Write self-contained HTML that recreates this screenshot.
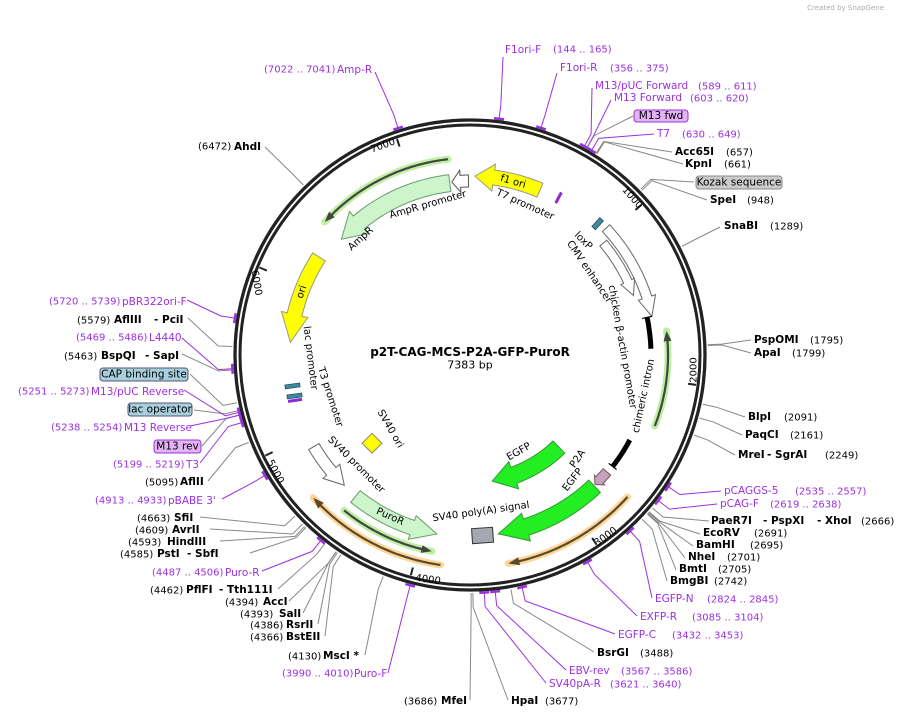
<!DOCTYPE html>
<html><head><meta charset="utf-8"><style>
html,body{margin:0;padding:0;background:#fff}
svg{display:block}
text{font-family:"DejaVu Sans","Liberation Sans",sans-serif;font-size:10px;dominant-baseline:central}
.b{font-weight:bold;font-size:10.5px;fill:#000}
.n{fill:#000}
.p{fill:#9b30e0}
.f{font-size:10px;fill:#000}
</style></head><body>
<svg id="s" width="907" height="718" viewBox="0 0 907 718" xmlns="http://www.w3.org/2000/svg">
<rect width="907" height="718" fill="#fff"/>
<g id="lines"></g>
<circle cx="470" cy="355" r="235" fill="none" stroke="#222" stroke-width="3.3"/>
<circle cx="470" cy="355" r="230" fill="none" stroke="#222" stroke-width="3"/>
<g id="feat"></g>
<text x="884" y="8" style="font-size:7px;fill:#aaa" text-anchor="end">Created by SnapGene</text>
<text x="470" y="352" text-anchor="middle" style="font-weight:bold;font-size:12px">p2T-CAG-MCS-P2A-GFP-PuroR</text>
<text x="470" y="365" text-anchor="middle" style="font-size:11px">7383 bp</text>
<text x="383" y="146" text-anchor="middle" transform="rotate(-20 383 146)">7000</text>
<text x="632" y="198" text-anchor="middle" transform="rotate(49 632 198)">1000</text>
<text x="694" y="370" text-anchor="middle" transform="rotate(-90 694 370)">2000</text>
<text x="606" y="537" text-anchor="middle" transform="rotate(-35 606 537)">3000</text>
<text x="428" y="580" text-anchor="middle" transform="rotate(8 428 580)">4000</text>
<text x="275" y="472" text-anchor="middle" transform="rotate(62 275 472)">5000</text>
<text x="256" y="283" text-anchor="middle" transform="rotate(80 256 283)">6000</text>
<text x="428" y="205" text-anchor="middle" transform="rotate(-16 428 205)" class="f">AmpR promoter</text>
<text x="361" y="239" text-anchor="middle" transform="rotate(-42 361 239)" class="f">AmpR</text>
<text x="513" y="182" text-anchor="middle" transform="rotate(16 513 182)" class="f">f1 ori</text>
<text x="525" y="205" text-anchor="middle" transform="rotate(24 525 205)" class="f">T7 promoter</text>
<text x="302" y="292" text-anchor="middle" transform="rotate(-72 302 292)" class="f">ori</text>
<text x="310" y="358" text-anchor="middle" transform="rotate(83 310 358)" class="f">lac promoter</text>
<text x="330" y="397" text-anchor="middle" transform="rotate(72 330 397)" class="f">T3 promoter</text>
<text x="390" y="429" text-anchor="middle" transform="rotate(60 390 429)" class="f">SV40 ori</text>
<text x="356" y="465" text-anchor="middle" transform="rotate(45 356 465)" class="f">SV40 promoter</text>
<text x="390" y="517" text-anchor="middle" transform="rotate(24 390 517)" class="f">PuroR</text>
<text x="481" y="512" text-anchor="middle" transform="rotate(-8 481 512)" class="f">SV40 poly(A) signal</text>
<text x="519" y="452" text-anchor="middle" transform="rotate(-30 519 452)" class="f">EGFP</text>
<text x="578" y="459" text-anchor="middle" transform="rotate(-55 578 459)" class="f">P2A</text>
<text x="573" y="480" text-anchor="middle" transform="rotate(-52 573 480)" class="f">EGFP</text>
<text x="583" y="241" text-anchor="middle" transform="rotate(45 583 241)" class="f">loxP</text>
<text x="589" y="272" text-anchor="middle" transform="rotate(56 589 272)" class="f">CMV enhancer</text>
<text x="622" y="347" text-anchor="middle" transform="rotate(80 622 347)" class="f">chicken β-actin promoter</text>
<text x="644" y="396" text-anchor="middle" transform="rotate(-78 644 396)" class="f">chimeric intron</text>
<rect x="365" y="432" width="14" height="14" fill="#ff0" stroke="#886" stroke-width="1" transform="rotate(45 372 439) translate(3 3)"/>
<rect x="472" y="528" width="21" height="15" fill="#a4a8b0" stroke="#333" stroke-width="1" transform="rotate(-4 482 535)"/>
<rect x="285" y="384" width="15" height="4" fill="#3a8aa0" stroke="#234" stroke-width=".6" transform="rotate(-8 292 386)"/>
<rect x="287" y="394" width="15" height="4" fill="#3a8aa0" stroke="#234" stroke-width=".6" transform="rotate(-8 294 396)"/>
<rect x="288" y="399" width="14" height="3" fill="#8a2ad8" transform="rotate(-8 294 400)"/>
<rect x="592" y="221" width="12" height="5" fill="#3a8aa0" stroke="#234" stroke-width=".6" transform="rotate(-48 598 224)"/>
<rect x="553" y="196" width="12" height="3" fill="#8a2ad8" transform="rotate(-62 559 198)"/>
<text x="505" y="50" class="p" style="font-size:10.5px">F1ori-F</text><text x="553" y="50" class="p">(144 .. 165)</text>
<text x="560" y="68" class="p" style="font-size:10.5px">F1ori-R</text><text x="610" y="69" class="p">(356 .. 375)</text>
<text x="595" y="86" class="p" style="font-size:10.5px">M13/pUC Forward</text><text x="698" y="87" class="p">(589 .. 611)</text>
<text x="614" y="98" class="p" style="font-size:10.5px">M13 Forward</text><text x="690" y="99" class="p">(603 .. 620)</text>
<rect x="634" y="110" width="54" height="12" rx="3" fill="#e2b4f2" stroke="#9b30e0"/><text x="661" y="116" text-anchor="middle" class="n" style="font-size:10.5px">M13 fwd</text>
<text x="657" y="134" class="p" style="font-size:10.5px">T7</text><text x="682" y="135" class="p">(630 .. 649)</text>
<text x="675" y="152" class="b">Acc65I</text><text x="726" y="153" class="n">(657)</text>
<text x="685" y="164" class="b">KpnI</text><text x="724" y="165" class="n">(661)</text>
<rect x="696" y="176" width="86" height="13" rx="3" fill="#ccc" stroke="#888"/><text x="739" y="182.5" text-anchor="middle" class="n" style="font-size:10.5px">Kozak sequence</text>
<text x="710" y="200" class="b">SpeI</text><text x="747" y="201" class="n">(948)</text>
<text x="724" y="226" class="b">SnaBI</text><text x="770" y="227" class="n">(1289)</text>
<text x="754" y="340" class="b">PspOMI</text><text x="810" y="341" class="n">(1795)</text>
<text x="754" y="353" class="b">ApaI</text><text x="792" y="354" class="n">(1799)</text>
<text x="748" y="417" class="b">BlpI</text><text x="784" y="418" class="n">(2091)</text>
<text x="745" y="435" class="b">PaqCI</text><text x="790" y="436" class="n">(2161)</text>
<text x="738" y="455" class="b">MreI</text><text x="767" y="455" class="b">- SgrAI</text><text x="825" y="456" class="n">(2249)</text>
<text x="724" y="491" class="p" style="font-size:10.5px">pCAGGS-5</text><text x="795" y="492" class="p">(2535 .. 2557)</text>
<text x="720" y="504" class="p" style="font-size:10.5px">pCAG-F</text><text x="770" y="505" class="p">(2619 .. 2638)</text>
<text x="711" y="521" class="b">PaeR7I</text><text x="763" y="521" class="b">- PspXI</text><text x="817" y="521" class="b">- XhoI</text><text x="861" y="522" class="n">(2666)</text>
<text x="703" y="533" class="b">EcoRV</text><text x="754" y="534" class="n">(2691)</text>
<text x="696" y="545" class="b">BamHI</text><text x="750" y="546" class="n">(2695)</text>
<text x="688" y="557" class="b">NheI</text><text x="727" y="558" class="n">(2701)</text>
<text x="679" y="569" class="b">BmtI</text><text x="718" y="570" class="n">(2705)</text>
<text x="670" y="581" class="b">BmgBI</text><text x="714" y="582" class="n">(2742)</text>
<text x="655" y="599" class="p" style="font-size:10.5px">EGFP-N</text><text x="707" y="600" class="p">(2824 .. 2845)</text>
<text x="640" y="617" class="p" style="font-size:10.5px">EXFP-R</text><text x="692" y="618" class="p">(3085 .. 3104)</text>
<text x="618" y="635" class="p" style="font-size:10.5px">EGFP-C</text><text x="672" y="636" class="p">(3432 .. 3453)</text>
<text x="597" y="653" class="b">BsrGI</text><text x="640" y="654" class="n">(3488)</text>
<text x="569" y="671" class="p" style="font-size:10.5px">EBV-rev</text><text x="621" y="672" class="p">(3567 .. 3586)</text>
<text x="549" y="684" class="p" style="font-size:10.5px">SV40pA-R</text><text x="610" y="685" class="p">(3621 .. 3640)</text>
<text x="511" y="701" class="b">HpaI</text><text x="545" y="702" class="n">(3677)</text>
<text x="404" y="702" class="n">(3686)</text><text x="441" y="701" class="b">MfeI</text>
<text x="282" y="674" class="p">(3990 .. 4010)</text><text x="354" y="674" class="p" style="font-size:10.5px">Puro-F</text>
<text x="288" y="657" class="n">(4130)</text><text x="323" y="656" class="b">MscI *</text>
<text x="250" y="638" class="n">(4366)</text><text x="286" y="637" class="b">BstEII</text>
<text x="250" y="626" class="n">(4386)</text><text x="286" y="625" class="b">RsrII</text>
<text x="240" y="615" class="n">(4393)</text><text x="279" y="614" class="b">SalI</text>
<text x="225" y="603" class="n">(4394)</text><text x="263" y="602" class="b">AccI</text>
<text x="150" y="591" class="n">(4462)</text><text x="186" y="590" class="b">PflFI</text><text x="219" y="590" class="b">- Tth111I</text>
<text x="152" y="573" class="p">(4487 .. 4506)</text><text x="225" y="573" class="p" style="font-size:10.5px">Puro-R</text>
<text x="120" y="555" class="n">(4585)</text><text x="157" y="554" class="b">PstI</text><text x="187" y="554" class="b">- SbfI</text>
<text x="128" y="543" class="n">(4593)</text><text x="167" y="542" class="b">HindIII</text>
<text x="135" y="531" class="n">(4609)</text><text x="172" y="530" class="b">AvrII</text>
<text x="137" y="519" class="n">(4663)</text><text x="174" y="518" class="b">SfiI</text>
<text x="95" y="501" class="p">(4913 .. 4933)</text><text x="168" y="501" class="p" style="font-size:10.5px">pBABE 3'</text>
<text x="145" y="483" class="n">(5095)</text><text x="180" y="482" class="b">AflII</text>
<text x="113" y="465" class="p">(5199 .. 5219)</text><text x="186" y="465" class="p" style="font-size:10.5px">T3</text>
<rect x="154" y="440" width="47" height="13" rx="3" fill="#e2b4f2" stroke="#9b30e0"/><text x="177.5" y="446.5" text-anchor="middle" class="n" style="font-size:10.5px">M13 rev</text>
<text x="51" y="428" class="p">(5238 .. 5254)</text><text x="124" y="428" class="p" style="font-size:10.5px">M13 Reverse</text>
<rect x="128" y="403" width="64" height="13" rx="3" fill="#a8cfdb" stroke="#557"/><text x="160" y="409.5" text-anchor="middle" class="n" style="font-size:10.5px">lac operator</text>
<text x="18" y="392" class="p">(5251 .. 5273)</text><text x="91" y="392" class="p" style="font-size:10.5px">M13/pUC Reverse</text>
<rect x="100" y="368" width="88" height="13" rx="3" fill="#a8cfdb" stroke="#557"/><text x="144" y="374.5" text-anchor="middle" class="n" style="font-size:10.5px">CAP binding site</text>
<text x="64" y="357" class="n">(5463)</text><text x="101" y="356" class="b">BspQI</text><text x="145" y="356" class="b">- SapI</text>
<text x="76" y="338" class="p">(5469 .. 5486)</text><text x="149" y="338" class="p" style="font-size:10.5px">L4440</text>
<text x="77" y="321" class="n">(5579)</text><text x="114" y="320" class="b">AflIII</text><text x="154" y="320" class="b">- PciI</text>
<text x="49" y="302" class="p">(5720 .. 5739)</text><text x="122" y="302" class="p" style="font-size:10.5px">pBR322ori-F</text>
<text x="198" y="147" class="n">(6472)</text><text x="234" y="147" class="b">AhdI</text>
<text x="264" y="70" class="p">(7022 .. 7041)</text><text x="337" y="70" class="p" style="font-size:10.5px">Amp-R</text>
</svg>
<script>
(function(){
var NS="http://www.w3.org/2000/svg",cx=470,cy=355,T=7383;
function P(r,a){a=a*Math.PI/180;return [cx+r*Math.sin(a),cy-r*Math.cos(a)];}
function el(g,n,at){var e=document.createElementNS(NS,n);for(var k in at)e.setAttribute(k,at[k]);document.getElementById(g).appendChild(e);return e;}
function arcPts(r,a1,a2){var pts=[],n=Math.max(2,Math.ceil(Math.abs(a2-a1)/0.7));for(var i=0;i<=n;i++){pts.push(P(r,a1+(a2-a1)*i/n));}return pts;}
function ps(pts){return pts.map(function(p){return p[0].toFixed(1)+","+p[1].toFixed(1)}).join(" ");}
function arrow(r,w,t,tip,h,ex,fill,stroke){var s=tip>t?1:-1,b=tip-s*h;
 var pts=arcPts(r+w/2,t,b);pts.push(P(r+w/2+ex,b));pts.push(P(r,tip));pts.push(P(r-w/2-ex,b));pts=pts.concat(arcPts(r-w/2,b,t));
 el("feat","polygon",{points:ps(pts),fill:fill,stroke:stroke,"stroke-width":1});}
function line(r,a1,a2,halo,col){var s=a2>a1?1:-1;
 el("feat","polyline",{points:ps(arcPts(r,a1,a2)),fill:"none",stroke:halo,"stroke-width":7,"stroke-linecap":"round"});
 el("feat","polyline",{points:ps(arcPts(r,a1,a2-s*1.5)),fill:"none",stroke:col,"stroke-width":2.2});
 var b=a2-s*3;el("feat","polygon",{points:ps([P(r+4,b),P(r,a2),P(r-4,b)]),fill:col});}
function bar(r,a1,a2){el("feat","polyline",{points:ps(arcPts(r,a1,a2)),fill:"none",stroke:"#000","stroke-width":5});}
line(197,-6.4,-47.5,"#bdf0a0","#444");
line(198,111,83,"#bdf0a0","#444");
line(200,219,191,"#bdf0a0","#444");
line(212,132,169.6,"#ffd699","#5a4a2a");
line(212,188,227.7,"#ffd699","#5a4a2a");
arrow(174,12,-0.5,-6,2.8,5,"#fff","#555");
arrow(173,17,-6.7,-48,8,6,"#ccf5cc","#6a9a6a");
arrow(179,15,23,1.6,6,6,"#ffff00","#998");
arrow(180,15,-57,-86,9,6,"#ffff00","#998");
arrow(186,10,47,78,6,4,"#fff","#666");
arrow(174,9,50,70,5,3,"#fff","#666");
arrow(128,17,136,170,10,6,"#22ee22","#393");
arrow(181,17,136.5,171,9,6,"#22ee22","#393");
arrow(182,15,219,190.5,8,5,"#ccf5cc","#6a9a6a");
arrow(181,12,239.6,224,6,5,"#fff","#666");
arrow(180,10,130.5,136,2,2,"#c9a0c0","#755");
bar(181,78,88);bar(181,118,128);
[[78,176,186],[128,176,186]].forEach(function(q){el("feat","line",{x1:P(q[1],q[0])[0],y1:P(q[1],q[0])[1],x2:P(q[2],q[0])[0],y2:P(q[2],q[0])[1],stroke:"#000","stroke-width":1.2});});
for(var k=1;k<=7;k++){var a=k*1000/T*360,p1=P(228,a),p2=P(220,a);el("feat","line",{x1:p1[0],y1:p1[1],x2:p2[0],y2:p2[1],stroke:"#222","stroke-width":2});}
var L=[[144,503,57,1],[356,557,73,1],[589,592,88,1],[603,611,100,1],[605,633,116,0],[630,654,134,1],[657,672,152,0],[661,683,164,0],[940,694,182,0],[948,707,200,0],[1289,720,227,0],[1795,751,340,0],[1799,751,353,0],[2091,745,417,0],[2161,742,435,0],[2249,735,455,0],[2535,721,491,1],[2619,717,504,1],[2666,709,521,0],[2691,700,534,0],[2695,693,546,0],[2701,685,558,0],[2705,676,570,0],[2742,667,581,0],[2824,652,598,1],[3085,637,616,1],[3432,615,634,1],[3488,594,652,0],[3567,566,670,1],[3621,546,683,1],[3677,508,700,0],[3686,470,700,0],[3990,388,673,1],[4130,365,655,0],[4366,325,636,0],[4386,318,624,0],[4393,303,613,0],[4394,289,601,0],[4462,278,589,0],[4487,262,571,1],[4585,250,553,0],[4593,220,541,0],[4609,210,529,0],[4663,200,517,0],[4913,222,499,1],[5095,208,481,0],[5199,200,463,1],[5238,202,446,0],[5238,190,426,1],[5260,194,410,0],[5251,184,390,1],[5300,190,374,0],[5463,182,354,0],[5469,182,338,1],[5579,188,318,0],[5720,187,300,1],[6472,265,147,0],[7022,375,72,1]];
L.forEach(function(q){var a=q[0]/T*360,p=P(238,a),m=P(252,a),c=q[3]?"#9b30e0":"#888";
 el("lines","polyline",{points:ps([p,m,[q[1],q[2]]]),fill:"none",stroke:c,"stroke-width":1});
 if(q[3]){var t1=P(238,a-1.2),t2=P(238,a+1.2);el("lines","polyline",{points:ps([t1,t2]),stroke:c,"stroke-width":2.5,fill:"none"});}});
})();
</script>
</body></html>
